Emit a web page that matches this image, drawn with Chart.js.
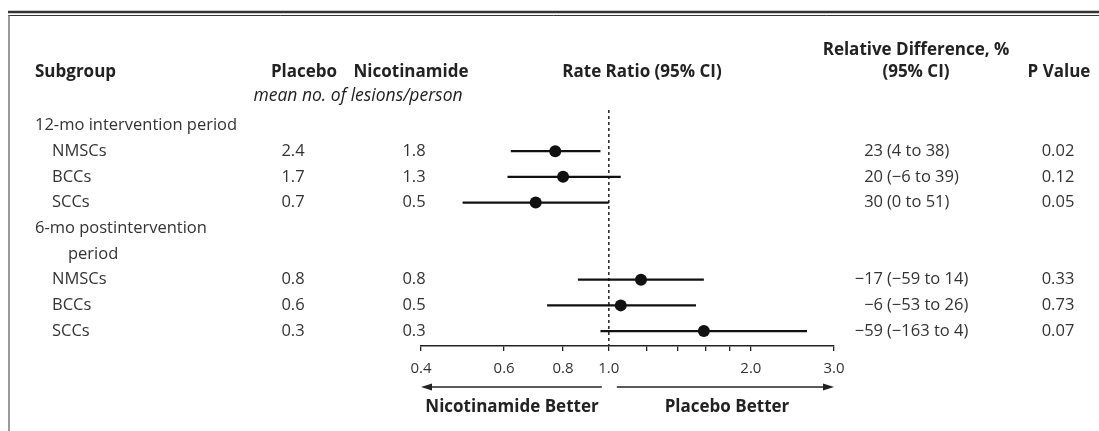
<!DOCTYPE html>
<html>
<head>
<meta charset="utf-8">
<script src="https://cdn.jsdelivr.net/npm/chart.js@4/dist/chart.umd.min.js"></script>
<style>
  html, body { margin: 0; padding: 0; background: #fff; }
  canvas { display: block; }
</style>
</head>
<body>
<canvas id="forest" width="1099" height="431"></canvas>
<script>
// данные графика
const subgroups = ['NMSCs', 'BCCs', 'SCCs', 'NMSCs', 'BCCs', 'SCCs'];
const rowPos = [1, 2, 3, 6, 7, 8];
const sectionLabels = ['12-mo intervention period', '6-mo postintervention', 'period'];
const sectionRows = [0, 4, 5];
const placeboMeans = ['2.4', '1.7', '0.7', '0.8', '0.6', '0.3'];
const nicotinamideMeans = ['1.8', '1.3', '0.5', '0.8', '0.5', '0.3'];
const rateRatio = [0.77, 0.80, 0.70, 1.17, 1.06, 1.59];
const ciLow = [0.62, 0.61, 0.49, 0.86, 0.74, 0.96];
const ciHigh = [0.96, 1.06, 1.00, 1.59, 1.53, 2.63];
const relDiff = ['23', '20', '30', '\u221217', '\u22126', '\u221259'];
const relDiffCI = ['(4 to 38)', '(\u22126 to 39)', '(0 to 51)', '(\u221259 to 14)', '(\u221253 to 26)', '(\u2212163 to 4)'];
const pValues = ['0.02', '0.12', '0.05', '0.33', '0.73', '0.07'];
const tickValues = [0.4, 0.6, 0.8, 1.0, 1.2, 1.4, 1.6, 1.8, 2.0, 3.0];
const tickLabels = { 0.4: '0.4', 0.6: '0.6', 0.8: '0.8', 1: '1.0', 2: '2.0', 3: '3.0' };

const FONT = '"Open Sans", sans-serif';
const INK = '#222';

function text(ctx, str, x, y, align, weight, style, size) {
  const s = size || (weight === 'bold' ? 17 : 16.5);
  ctx.font = `${style || 'normal'} ${weight || 'normal'} ${s}px ${FONT}`;
  ctx.textAlign = align || 'left';
  ctx.textBaseline = 'middle';
  ctx.fillText(str, x, y);
}

function arrow(ctx, x0, x1, y) {
  const dir = Math.sign(x1 - x0);
  ctx.beginPath();
  ctx.moveTo(x0, y);
  ctx.lineTo(x1 - dir * 8, y);
  ctx.stroke();
  ctx.beginPath();
  ctx.moveTo(x1, y);
  ctx.lineTo(x1 - dir * 11, y - 3.5);
  ctx.lineTo(x1 - dir * 11, y + 3.5);
  ctx.closePath();
  ctx.fill();
}

const forestDecor = {
  id: 'forestDecor',
  beforeDatasetsDraw(chart) {
    const { ctx, chartArea, scales: { x, y } } = chart;
    ctx.save();
    // линия отсутствия эффекта
    ctx.strokeStyle = INK;
    ctx.lineWidth = 1.5;
    ctx.setLineDash([3, 3]);
    ctx.beginPath();
    ctx.moveTo(x.getPixelForValue(1), chartArea.top);
    ctx.lineTo(x.getPixelForValue(1), chartArea.bottom);
    ctx.stroke();
    ctx.setLineDash([]);
    // доверительные интервалы
    ctx.lineWidth = 2.2;
    ctx.strokeStyle = '#111';
    rowPos.forEach((r, i) => {
      const py = y.getPixelForValue(r);
      ctx.beginPath();
      ctx.moveTo(x.getPixelForValue(ciLow[i]), py);
      ctx.lineTo(x.getPixelForValue(ciHigh[i]), py);
      ctx.stroke();
    });
    ctx.restore();
  },
  afterDraw(chart) {
    const { ctx, scales: { x, y } } = chart;
    ctx.save();
    ctx.fillStyle = INK;

    // рамка
    ctx.strokeStyle = '#333';
    ctx.lineWidth = 2.5;
    ctx.beginPath(); ctx.moveTo(8, 12); ctx.lineTo(1099, 12); ctx.stroke();
    ctx.lineWidth = 1;
    ctx.beginPath(); ctx.moveTo(8, 15.5); ctx.lineTo(1099, 15.5); ctx.stroke();
    ctx.strokeStyle = '#777';
    ctx.lineWidth = 1.5;
    ctx.beginPath(); ctx.moveTo(9, 15); ctx.lineTo(9, 431); ctx.stroke();

    // заголовки
    text(ctx, 'Subgroup', 35, 72, 'left', 'bold');
    text(ctx, 'Placebo', 304, 72, 'center', 'bold');
    text(ctx, 'Nicotinamide', 411, 72, 'center', 'bold');
    text(ctx, 'mean no. of lesions/person', 358, 96, 'center', 'normal', 'italic', 17.5);
    text(ctx, 'Rate Ratio (95% CI)', 642, 72, 'center', 'bold');
    text(ctx, 'Relative Difference, %', 916, 50, 'center', 'bold');
    text(ctx, '(95% CI)', 916, 72, 'center', 'bold');
    text(ctx, 'P Value', 1059, 72, 'center', 'bold');

    // разделы
    ctx.fillStyle = '#333';
    sectionLabels.forEach((s, i) => {
      text(ctx, s, i === 2 ? 68 : 35, y.getPixelForValue(sectionRows[i]));
    });

    // строки
    rowPos.forEach((r, i) => {
      const py = y.getPixelForValue(r);
      text(ctx, subgroups[i], 52, py);
      text(ctx, placeboMeans[i], 293, py, 'center');
      text(ctx, nicotinamideMeans[i], 414, py, 'center');
      text(ctx, relDiff[i], 883, py, 'right');
      text(ctx, relDiffCI[i], 887, py, 'left');
      text(ctx, pValues[i], 1058, py, 'center');
    });

    // стрелки под осью
    const ay = 387;
    ctx.strokeStyle = INK;
    ctx.fillStyle = INK;
    ctx.lineWidth = 1.5;
    arrow(ctx, x.getPixelForValue(1) - 7, x.getPixelForValue(0.4), ay);
    arrow(ctx, x.getPixelForValue(1) + 8, x.getPixelForValue(3), ay);
    text(ctx, 'Nicotinamide Better', 512, 407, 'center', 'bold');
    text(ctx, 'Placebo Better', 727, 407, 'center', 'bold');
    ctx.restore();
  }
};

new Chart(document.getElementById('forest').getContext('2d'), {
  type: 'scatter',
  data: {
    datasets: [{
      data: rateRatio.map((v, i) => ({ x: v, y: rowPos[i] })),
      pointRadius: 6,
      pointBackgroundColor: '#111',
      pointBorderColor: '#111',
      pointBorderWidth: 0,
    }],
  },
  options: {
    responsive: false,
    animation: false,
    events: [],
    layout: { padding: { left: 421, right: 265, top: 110, bottom: 55 } },
    plugins: { legend: { display: false }, tooltip: { enabled: false } },
    scales: {
      x: {
        type: 'logarithmic',
        min: 0.4,
        max: 3.0,
        afterBuildTicks: (scale) => { scale.ticks = tickValues.map((v) => ({ value: v })); },
        afterFit: (scale) => { scale.height = 30; },
        ticks: {
          autoSkip: false,
          maxRotation: 0,
          padding: 9,
          color: '#333',
          font: { family: FONT, size: 15 },
          callback: (v) => tickLabels[v] || '',
        },
        grid: { drawOnChartArea: false, tickLength: 5, color: INK, lineWidth: 1.3 },
        border: { color: INK, width: 1.5 },
      },
      y: { type: 'linear', reverse: true, min: -0.6, max: 8.58, display: false },
    },
  },
  plugins: [forestDecor],
});
</script>
</body>
</html>
